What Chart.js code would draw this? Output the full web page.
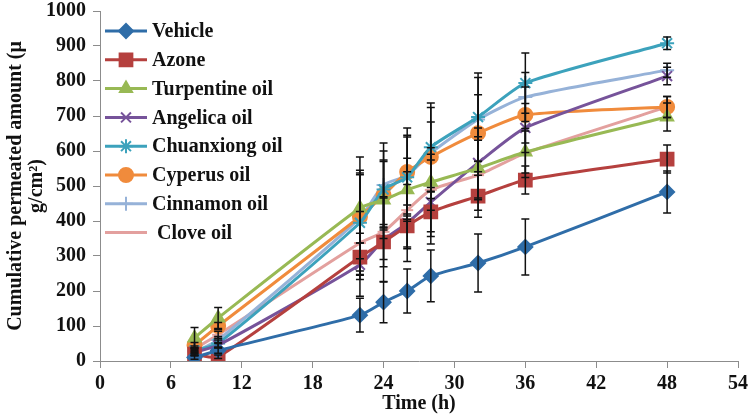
<!DOCTYPE html>
<html>
<head>
<meta charset="utf-8">
<script src="https://cdn.jsdelivr.net/npm/chart.js@4.4.0/dist/chart.umd.min.js"></script>
<style>
  html, body { margin: 0; padding: 0; background: #fff; }
</style>
</head>
<body>
<canvas id="chart" width="750" height="418"></canvas>
<script>
// Cumulative permeated amount vs time, eight formulations

const times = [8, 10, 22, 24, 26, 28, 32, 36, 48];
const xTicks = [0, 6, 12, 18, 24, 30, 36, 42, 48, 54];
const yTicks = [0, 100, 200, 300, 400, 500, 600, 700, 800, 900, 1000];

const seriesNames = ['Vehicle', 'Azone', 'Turpentine oil', 'Angelica oil', 'Chuanxiong oil', 'Cyperus oil', 'Cinnamon oil', ' Clove oil'];

const vehicle    = [10, 30, 131, 168, 200, 243, 280, 326, 483];
const azone      = [20, 12, 297, 340, 386, 426, 471, 517, 577];
const turpentine = [66, 123, 437, 460, 489, 511, 551, 597, 697];
const angelica   = [25, 45, 275, 346, 394, 454, 566, 666, 814];
const chuanxiong = [30, 50, 395, 490, 525, 611, 697, 794, 908];
const cyperus    = [45, 100, 412, 474, 540, 583, 651, 703, 726];
const cinnamon   = [25, 60, 408, 503, 530, 594, 690, 754, 831];
const clove      = [35, 75, 337, 369, 431, 489, 531, 594, 726];

// standard deviations (error bars)
const vehicleErr    = [5, 8, 48, 59, 63, 74, 83, 80, 60];
const azoneErr      = [5, 5, 40, 50, 60, 70, 60, 40, 40];
const turpentineErr = [30, 30, 100, 110, 90, 80, 90, 60, 40];
const angelicaErr   = [5, 8, 90, 120, 110, 120, 100, 70, 25];
const chuanxiongErr = [8, 10, 150, 110, 120, 126, 126, 86, 18];
const cyperusErr    = [8, 10, 120, 100, 126, 100, 110, 80, 30];
const cinnamonErr   = [8, 10, 175, 120, 110, 130, 120, 70, 20];
const cloveErr      = [8, 10, 90, 100, 110, 120, 100, 70, 30];

const values = [vehicle, azone, turpentine, angelica, chuanxiong, cyperus, cinnamon, clove];
const errors = [vehicleErr, azoneErr, turpentineErr, angelicaErr, chuanxiongErr, cyperusErr, cinnamonErr, cloveErr];

const colors = ['#2F6DA8', '#B5403E', '#98B954', '#76539A', '#3CA2BC', '#F08B3C', '#96B2D8', '#E3A09E'];
const styles = ['rectRot', 'rect', 'triangle', 'crossRot', 'star', 'circle', 'cross', 'line'];
const radii  = [7, 9, 7, 7, 7, 7, 7, 6];

const serif = '"Liberation Serif", "Times New Roman", serif';

const datasets = seriesNames.map((name, i) => ({
  label: name,
  data: times.map((t, j) => ({ x: t, y: values[i][j] })),
  errors: errors[i],
  borderColor: colors[i],
  backgroundColor: colors[i],
  borderWidth: 3,
  pointStyle: styles[i],
  pointRadius: radii[i],
  pointBorderWidth: 2,
  pointBorderColor: colors[i],
  pointBackgroundColor: colors[i],
  tension: 0.2,
  fill: false
}));

// black error bars with caps
const errorBars = {
  id: 'errorBars',
  afterDatasetsDraw(chart) {
    const ctx = chart.ctx;
    const xs = chart.scales.x, ys = chart.scales.y;
    ctx.save();
    ctx.strokeStyle = '#111';
    ctx.lineWidth = 1.5;
    chart.data.datasets.forEach(ds => {
      ds.data.forEach((p, j) => {
        const e = ds.errors[j];
        const x = xs.getPixelForValue(p.x);
        const yTop = ys.getPixelForValue(p.y + e);
        const yBot = ys.getPixelForValue(Math.max(0, p.y - e));
        ctx.beginPath();
        ctx.moveTo(x, yTop); ctx.lineTo(x, yBot);
        ctx.moveTo(x - 4, yTop); ctx.lineTo(x + 4, yTop);
        ctx.moveTo(x - 4, yBot); ctx.lineTo(x + 4, yBot);
        ctx.stroke();
      });
    });
    ctx.restore();
  }
};

// legend drawn inside the plot area, top left
const innerLegend = {
  id: 'innerLegend',
  afterDraw(chart) {
    const ctx = chart.ctx;
    const area = chart.chartArea;
    const x0 = area.left + 5;
    let y = area.top + 20;
    ctx.save();
    chart.data.datasets.forEach(ds => {
      ctx.strokeStyle = ds.borderColor;
      ctx.fillStyle = ds.backgroundColor;
      ctx.lineWidth = 3;
      ctx.beginPath();
      ctx.moveTo(x0, y); ctx.lineTo(x0 + 42, y);
      ctx.stroke();
      ctx.lineWidth = 2;
      Chart.helpers.drawPoint(ctx, { pointStyle: ds.pointStyle, radius: ds.pointRadius, rotation: 0, borderWidth: 2 }, x0 + 21, y);
      ctx.fillStyle = '#111';
      ctx.font = 'bold 20px ' + serif;
      ctx.textBaseline = 'middle';
      ctx.textAlign = 'left';
      ctx.fillText(ds.label, x0 + 47, y + 1);
      y += 28.8;
    });
    ctx.restore();
  }
};

new Chart(document.getElementById('chart').getContext('2d'), {
  type: 'line',
  data: { datasets },
  plugins: [errorBars, innerLegend],
  options: {
    responsive: false,
    animation: false,
    layout: { padding: { top: 11, right: 12 } },
    plugins: { legend: { display: false }, tooltip: { enabled: false } },
    scales: {
      x: {
        type: 'linear',
        min: 0, max: 54,
        afterBuildTicks: s => { s.ticks = xTicks.map(v => ({ value: v })); },
        afterFit: s => { s.height = 57; s.paddingLeft = 0; s.paddingRight = 0; },
        border: { color: '#8c8c8c', width: 1 },
        grid: { drawOnChartArea: false, drawTicks: true, tickLength: 7, color: '#8c8c8c' },
        ticks: { color: '#111', padding: 4, maxRotation: 0, callback: v => String(v), font: { family: serif, size: 20, weight: 'bold' } },
        title: { display: true, text: 'Time (h)', color: '#111', padding: { top: 0, bottom: 2 }, font: { family: serif, size: 20, weight: 'bold' } }
      },
      y: {
        min: 0, max: 1000,
        afterBuildTicks: s => { s.ticks = yTicks.map(v => ({ value: v })); },
        afterFit: s => { s.width = 100; s.paddingTop = 0; s.paddingBottom = 0; },
        border: { color: '#8c8c8c', width: 1 },
        grid: { drawOnChartArea: false, drawTicks: true, tickLength: 7, color: '#8c8c8c' },
        ticks: { color: '#111', padding: 7, callback: v => String(v), font: { family: serif, size: 20, weight: 'bold' } },
        title: {
          display: true,
          text: ['Cumulative permeated amount (μ', 'g/cm²)'],
          color: '#111',
          padding: { top: 5, bottom: 0 },
          font: { family: serif, size: 20, weight: 'bold', lineHeight: 1.05 }
        }
      }
    }
  }
});
</script>
</body>
</html>
